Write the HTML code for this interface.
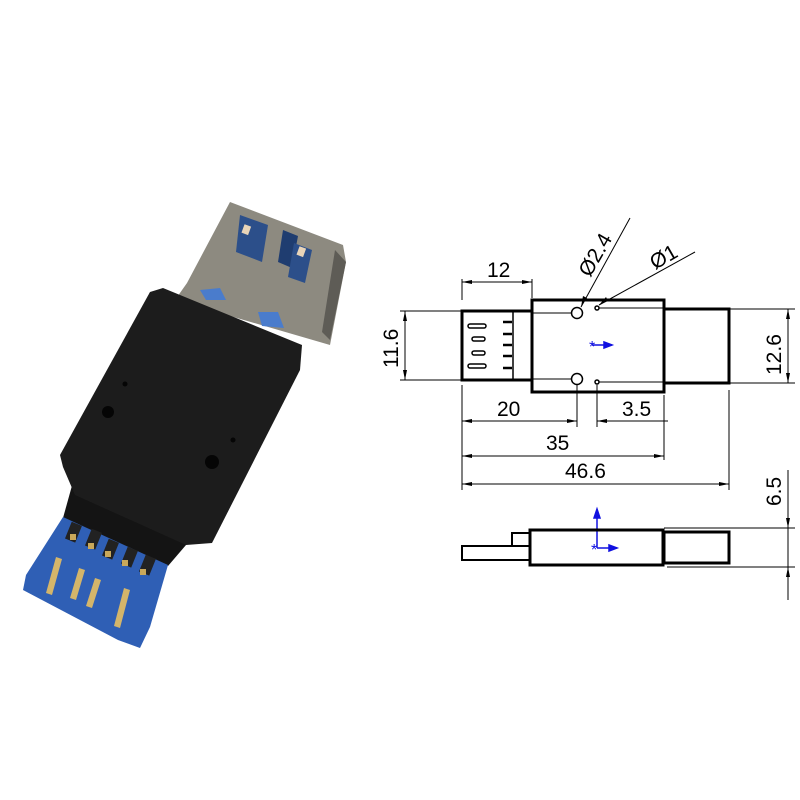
<!DOCTYPE html>
<html><head><meta charset="utf-8"><style>html,body{margin:0;padding:0;background:#fff}svg{display:block}</style></head>
<body>
<svg width="800" height="800" viewBox="0 0 800 800" xmlns="http://www.w3.org/2000/svg" font-family="Liberation Sans, sans-serif">
<rect width="800" height="800" fill="#fff"/>
<!-- PHOTO -->
<polygon points="230,202 343,245 346,262 330,345 175,300 187,283" fill="#8d8a80"/>
<polygon points="335,250 346,262 330,340 322,332" fill="#5e5c56"/>
<polygon points="240,215 268,225 262,262 236,252" fill="#2c4f8a"/>
<polygon points="283,230 298,236 292,268 278,262" fill="#1f3d70"/>
<polygon points="294,243 312,250 305,283 288,277" fill="#2c4f8a"/>
<rect x="243" y="225" width="7" height="9" fill="#e8d4b8" transform="rotate(20 246 229)"/>
<rect x="298" y="247" width="7" height="9" fill="#e8d4b8" transform="rotate(20 301 251)"/>
<polygon points="200,290 220,288 226,300 206,300" fill="#4a7ccc"/>
<polygon points="258,312 278,312 284,328 262,326" fill="#4a7ccc"/>
<polygon points="73,482 192,538 168,566 63,518" fill="#141414"/>
<polygon points="163,288 302,345 300,370 212,543 186,545 75,495 63,467 60,455 150,292" fill="#1c1c1c"/>
<circle cx="108" cy="412" r="6" fill="#050505"/>
<circle cx="212" cy="462" r="7" fill="#050505"/>
<circle cx="125" cy="384" r="2.5" fill="#050505"/>
<circle cx="233" cy="440" r="2.5" fill="#050505"/>
<polygon points="63,517 168,565 150,627 140,648 118,640 23,590 26,575" fill="#2f5fb5"/>
<g fill="#222"><rect x="68" y="523" width="11" height="18" transform="rotate(22 73 532)"/><rect x="88" y="530" width="11" height="18" transform="rotate(22 93 539)"/><rect x="105" y="540" width="11" height="18" transform="rotate(22 110 549)"/><rect x="124" y="548" width="11" height="18" transform="rotate(22 129 557)"/><rect x="142" y="556" width="11" height="18" transform="rotate(22 147 565)"/></g>
<g fill="#c9a85a"><rect x="70" y="534" width="6" height="6"/><rect x="88" y="543" width="6" height="6"/><rect x="105" y="551" width="6" height="6"/><rect x="122" y="560" width="6" height="6"/><rect x="140" y="569" width="6" height="6"/></g>
<g fill="#d4b56a"><polygon points="56,557 62,559 52,595 46,593"/><polygon points="79,568 85,570 76,600 70,598"/><polygon points="95,578 101,580 92,608 86,606"/><polygon points="124,588 130,590 120,628 114,626"/></g>
<!-- DRAWING -->
<g fill="none" stroke="#000" stroke-width="3">
<rect x="462" y="311" width="70" height="69"/>
<rect x="532" y="300" width="132" height="92"/>
<rect x="664" y="309" width="65" height="74"/>
</g>
<g fill="none" stroke="#000" stroke-width="1.5">
<line x1="513" y1="311" x2="513" y2="380"/>
<rect x="468" y="324" width="18" height="4" rx="2"/><rect x="472" y="337" width="13" height="4" rx="2"/><rect x="472" y="351" width="13" height="4" rx="2"/><rect x="468" y="364" width="18" height="4" rx="2"/>
<g stroke-width="2.5"><line x1="503" y1="322" x2="512" y2="322"/><line x1="503" y1="334" x2="512" y2="334"/><line x1="503" y1="345" x2="512" y2="345"/><line x1="503" y1="356" x2="512" y2="356"/><line x1="503" y1="368" x2="512" y2="368"/></g>
<circle cx="577" cy="313" r="5.5"/><circle cx="577" cy="379" r="5.5"/>
<circle cx="597" cy="308" r="2"/><circle cx="597" cy="382" r="2"/>
</g>
<g stroke="#000" stroke-width="1" fill="none">
<line x1="462" y1="279" x2="462" y2="300"/><line x1="532" y1="279" x2="532" y2="298"/><line x1="462" y1="282" x2="532" y2="282"/>
<line x1="400" y1="311" x2="462" y2="311"/><line x1="400" y1="380" x2="462" y2="380"/><line x1="405" y1="311" x2="405" y2="380"/>
<line x1="729" y1="309" x2="795" y2="309"/><line x1="729" y1="383" x2="795" y2="383"/><line x1="788" y1="309" x2="788" y2="383"/>
<line x1="462" y1="385" x2="462" y2="490"/><line x1="664" y1="395" x2="664" y2="460"/><line x1="729" y1="390" x2="729" y2="490"/>
<line x1="577" y1="385" x2="577" y2="427"/><line x1="597" y1="385" x2="597" y2="427"/>
<line x1="462" y1="421" x2="577" y2="421"/><line x1="597" y1="421" x2="668" y2="421"/>
<line x1="462" y1="456" x2="664" y2="456"/><line x1="462" y1="484" x2="729" y2="484"/>
<line x1="581" y1="307" x2="630" y2="218"/><line x1="599" y1="305" x2="695" y2="252"/>
<line x1="532" y1="313" x2="571" y2="313"/><line x1="532" y1="379" x2="571" y2="379"/>
<line x1="599" y1="308" x2="664" y2="308"/><line x1="599" y1="382" x2="664" y2="382"/>
</g>
<g fill="#000">
<polygon points="462,282 472,280 472,284"/><polygon points="532,282 522,280 522,284"/>
<polygon points="405,311 403,321 407,321"/><polygon points="405,380 403,370 407,370"/>
<polygon points="788,309 786,319 790,319"/><polygon points="788,383 786,373 790,373"/>
<polygon points="462,421 472,419 472,423"/><polygon points="577,421 567,419 567,423"/><polygon points="597,421 607,419 607,423"/>
<polygon points="462,456 472,454 472,458"/><polygon points="664,456 654,454 654,458"/>
<polygon points="462,484 472,482 472,486"/><polygon points="729,484 719,482 719,486"/>
<polygon points="581,307 583,296 587,298"/><polygon points="599,305 606,297 608,301"/>
</g>
<g font-size="21" fill="#000">
<text x="487" y="277">12</text>
<text x="497" y="416">20</text>
<text x="622" y="416">3.5</text>
<text x="546" y="450">35</text>
<text x="565" y="478">46.6</text>
<text transform="translate(398,368) rotate(-90)">11.6</text>
<text transform="translate(781,375) rotate(-90)">12.6</text>
<text transform="translate(781,506) rotate(-90)">6.5</text>
<text transform="translate(590,278) rotate(-60)">Ø2.4</text>
<text transform="translate(655,270) rotate(-30)">Ø1</text>
</g>
<g stroke="#1010e0" stroke-width="1.5" fill="#1010e0">
<line x1="592" y1="345" x2="612" y2="345"/><polygon points="612,345 604,342 604,348"/>
<text x="589" y="352" font-size="16" stroke="none">*</text>
<line x1="597" y1="510" x2="597" y2="548"/><polygon points="597,509 594,518 600,518"/>
<line x1="597" y1="548" x2="617" y2="548"/><polygon points="617,548 609,545 609,551"/>
<text x="591" y="555" font-size="16" stroke="none">*</text>
</g>
<g fill="none" stroke="#000">
<polyline points="530,546 512,546 512,533 530,533" stroke-width="2"/>
<polyline points="512,546 462,546 462,560 530,560" stroke-width="2"/>
<rect x="530" y="530" width="133" height="35" stroke-width="3"/>
<rect x="664" y="532" width="65" height="31" stroke-width="3"/>
<line x1="664" y1="528" x2="795" y2="528" stroke-width="1"/>
<line x1="667" y1="567" x2="795" y2="567" stroke-width="1"/>
<line x1="788" y1="470" x2="788" y2="600" stroke-width="1"/>
</g>
<polygon points="788,528 786,518 790,518" fill="#000"/><polygon points="788,567 786,577 790,577" fill="#000"/>
</svg>
</body></html>
